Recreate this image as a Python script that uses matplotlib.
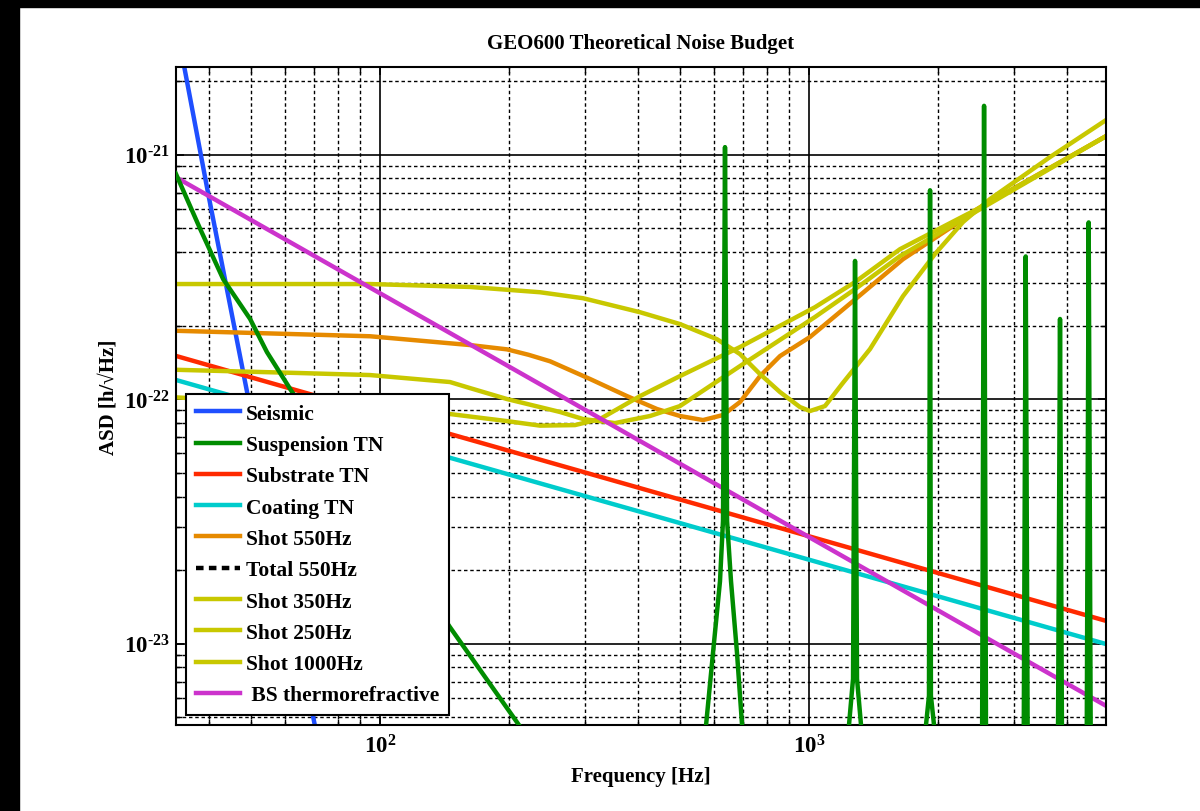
import numpy as np
import matplotlib
matplotlib.use('Agg')
import matplotlib.pyplot as plt
from matplotlib.ticker import FixedLocator, FuncFormatter, NullFormatter
from matplotlib.patches import Rectangle

plt.rcParams['font.family'] = ['Liberation Serif', 'DejaVu Serif']
plt.rcParams['font.weight'] = 'bold'
plt.rcParams['mathtext.fontset'] = 'custom'
plt.rcParams['mathtext.rm'] = 'Liberation Serif:bold'
plt.rcParams['mathtext.bf'] = 'Liberation Serif:bold'
plt.rcParams['mathtext.it'] = 'Liberation Serif:bold'

# ---- data (Hz, strain / sqrt(Hz)) ----
seis_f = [34.7, 39.7, 49.0, 69.8, 80.0]
seis_asd = [2.46e-21, 7.04e-22, 1.07e-22, 5.06e-24, 1.5e-24]

susp_f = [33.4, 38.1, 43.1, 49.8, 54.5, 62.4, 94.8, 145.5, 209.9, 300, 500,
          575.6, 597.3, 620.2, 630.3, 637.1, 644.2, 658.0, 679.5, 698.1,
          1000, 1239.6, 1266.6, 1280.3, 1294, 1322,
          1600, 1874, 1904, 1915, 1924, 1956,
          2200, 2532, 2559, 2586,
          2900, 3166, 3200, 3234,
          3500, 3805, 3847, 3888,
          4200, 4440, 4487, 4536, 4925]
susp_asd = [8.4e-22, 4.97e-22, 3.10e-22, 2.13e-22, 1.56e-22, 1.07e-22, 3.7e-23, 1.17e-23, 4.70e-24, 1.9e-24, 5e-25,
            4.66e-24, 9.16e-24, 1.80e-23, 3.18e-23, 1.075e-21, 3.18e-23, 1.80e-23, 9.16e-24, 4.66e-24,
            3e-25, 4.66e-24, 7.18e-24, 3.68e-22, 7.18e-24, 4.66e-24,
            2e-25, 4.66e-24, 6.12e-24, 7.16e-22, 6.12e-24, 4.66e-24,
            2e-25, 4e-24, 1.586e-21, 4e-24,
            2e-25, 4e-24, 3.84e-22, 4e-24,
            2e-25, 4e-24, 2.13e-22, 4e-24,
            2e-25, 4e-24, 5.29e-22, 4e-24, 2e-25]

subs_f = [33.4, 4925]
subs_asd = [1.505e-22, 1.24e-23]

coat_f = [33.4, 4925]
coat_asd = [1.20e-22, 9.97e-24]

shot550_f = [33.4, 94.8, 162.1, 197.7, 222.0, 249.1, 308.8, 376.5, 442.3, 500.4, 566.2,
             630.3, 690.6, 768.9, 855.9, 1005.3, 1266.6, 1656, 2166, 2464, 4925]
shot550_asd = [1.906e-22, 1.81e-22, 1.666e-22, 1.60e-22, 1.52e-22, 1.43e-22, 1.21e-22, 1.03e-22, 9.12e-23, 8.54e-23, 8.22e-23,
               8.62e-23, 9.74e-23, 1.244e-22, 1.502e-22, 1.797e-22, 2.52e-22, 3.74e-22, 5.11e-22, 5.99e-22, 1.192e-21]

shot350_f = [33.4, 65.1, 94.8, 145.6, 162.1, 197.7, 262.8, 297.4, 353.0, 426.0,
             500.4, 690.6, 1032.7, 1280, 1629.6, 2464, 4925]
shot350_asd = [1.32e-22, 1.28e-22, 1.256e-22, 1.176e-22, 1.111e-22, 1.002e-22, 8.87e-23, 8.30e-23, 7.99e-23, 8.54e-23,
               9.38e-23, 1.367e-22, 2.17e-22, 2.82e-22, 3.85e-22, 5.89e-22, 1.192e-21]

shot250_f = [33.4, 65.1, 94.8, 145.6, 197.7, 236.0, 284.8, 325.7, 403.7, 500.4,
             690.6, 1032.7, 1280, 1629.6, 2166, 2464, 4925]
shot250_asd = [1.018e-22, 9.56e-23, 9.29e-23, 8.70e-23, 8.14e-23, 7.8e-23, 7.84e-23, 8.30e-23, 1.03e-22, 1.244e-22,
               1.635e-22, 2.38e-22, 3.015e-22, 4.11e-22, 5.33e-22, 5.99e-22, 1.192e-21]

shot1000_f = [33.4, 94.8, 162.1, 236.0, 297.4, 403.7, 500.4, 610.4, 690.6, 768.9, 855.9,
              952.8, 1005.3, 1089.6, 1193.8, 1387.7, 1656, 1967, 2286, 2642, 3646, 4925]
shot1000_asd = [2.96e-22, 2.96e-22, 2.88e-22, 2.74e-22, 2.59e-22, 2.27e-22, 2.03e-22, 1.76e-22, 1.53e-22, 1.267e-22, 1.07e-22,
                9.29e-23, 8.95e-23, 9.38e-23, 1.154e-22, 1.605e-22, 2.64e-22, 3.93e-22, 5.31e-22, 6.59e-22, 9.79e-22, 1.387e-21]

bs_f = [33.4, 4925]
bs_asd = [8.1e-22, 5.57e-24]

x_major = [1e2, 1e3]
y_major = [1e-23, 1e-22, 1e-21]

# ---- figure ----
fig = plt.figure(figsize=(12, 8.12), dpi=100)
ax = fig.add_axes([0.1464, 0.1059, 0.7753, 0.81])

lw = 3.2
l_seis, = ax.plot(seis_f, seis_asd, color='#1f4fff', lw=lw, label='Seismic')
l_susp, = ax.plot(susp_f, susp_asd, color='#008c00', lw=lw, label='Suspension TN', zorder=4)
l_subs, = ax.plot(subs_f, subs_asd, color='#ff2a00', lw=lw, label='Substrate TN')
l_coat, = ax.plot(coat_f, coat_asd, color='#00cccc', lw=lw, label='Coating TN')
l_550, = ax.plot(shot550_f, shot550_asd, color='#e68a00', lw=lw, label='Shot 550Hz')
l_tot, = ax.plot([], [], color='black', lw=lw, ls=(0, (1.7, 1.2)), label='Total 550Hz')
l_350, = ax.plot(shot350_f, shot350_asd, color='#c8c800', lw=lw, label='Shot 350Hz')
l_250, = ax.plot(shot250_f, shot250_asd, color='#c8c800', lw=lw, label='Shot 250Hz')
l_1000, = ax.plot(shot1000_f, shot1000_asd, color='#c8c800', lw=lw, label='Shot 1000Hz')
l_bs, = ax.plot(bs_f, bs_asd, color='#cc33cc', lw=lw, label=' BS thermorefractive')

ax.set_xscale('log')
ax.set_yscale('log')
ax.set_xlim(33.4, 4925)
ax.set_ylim(4.65e-24, 2.28e-21)

# ticks only inside the visible range
x_minor = [m * 10.0 ** e for e in range(1, 4) for m in range(2, 10)]
x_minor = [v for v in x_minor if 33.4 <= v <= 4925]
y_minor = [m * 10.0 ** e for e in range(-24, -20) for m in range(2, 10)]
y_minor = [v for v in y_minor if 4.65e-24 <= v <= 2.28e-21]
ax.xaxis.set_major_locator(FixedLocator(x_major))
ax.xaxis.set_minor_locator(FixedLocator(x_minor))
ax.yaxis.set_major_locator(FixedLocator(y_major))
ax.yaxis.set_minor_locator(FixedLocator(y_minor))

def exp_fmt(v, pos):
    e = int(round(np.log10(v)))
    if e < 0:
        return r'$\mathbf{10^{\text{-}%d}}$' % (-e)
    return r'$\mathbf{10^{%d}}$' % e

ax.xaxis.set_major_formatter(FuncFormatter(exp_fmt))
ax.yaxis.set_major_formatter(FuncFormatter(exp_fmt))
ax.xaxis.set_minor_formatter(NullFormatter())
ax.yaxis.set_minor_formatter(NullFormatter())

ax.grid(True, which='major', color='black', lw=1.2, ls='-')
ax.grid(True, which='minor', color='black', lw=1.0, ls=(0, (2.5, 2)))
ax.set_axisbelow(True)
ax.tick_params(which='both', direction='in', top=True, right=True, labelsize=16.5)
ax.tick_params(axis='x', pad=7)
ax.tick_params(axis='y', pad=4)
ax.tick_params(which='major', length=6, width=1.2)
ax.tick_params(which='minor', length=4, width=1.0)
for s in ax.spines.values():
    s.set_linewidth(1.5)

ax.set_title('GEO600 Theoretical Noise Budget', fontsize=15, fontweight='bold', pad=14)
ax.set_xlabel('Frequency [Hz]', fontsize=15, fontweight='bold', labelpad=6)
ax.set_ylabel('ASD [h/\u221aHz]', fontsize=15, fontweight='bold', labelpad=4)

leg = ax.legend(handles=[l_seis, l_susp, l_subs, l_coat, l_550, l_tot, l_350, l_250, l_1000, l_bs],
                loc='upper left', bbox_to_anchor=(0.0111, 0.503), borderaxespad=0,
                fontsize=15.5, handlelength=2.05, handletextpad=0.3, labelspacing=0.52,
                fancybox=False, framealpha=1, edgecolor='black', borderpad=0.45)
leg.get_frame().set_linewidth(1.5)
leg.set_zorder(10)

# black strips along the top and left edge of the picture
fig.patches.append(Rectangle((0, 1 - 8 / 812), 1, 8 / 812, transform=fig.transFigure,
                             color='black', zorder=0))
fig.patches.append(Rectangle((0, 0), 19 / 1200, 1, transform=fig.transFigure,
                             color='black', zorder=0))

fig.savefig('out.png', dpi=100)
